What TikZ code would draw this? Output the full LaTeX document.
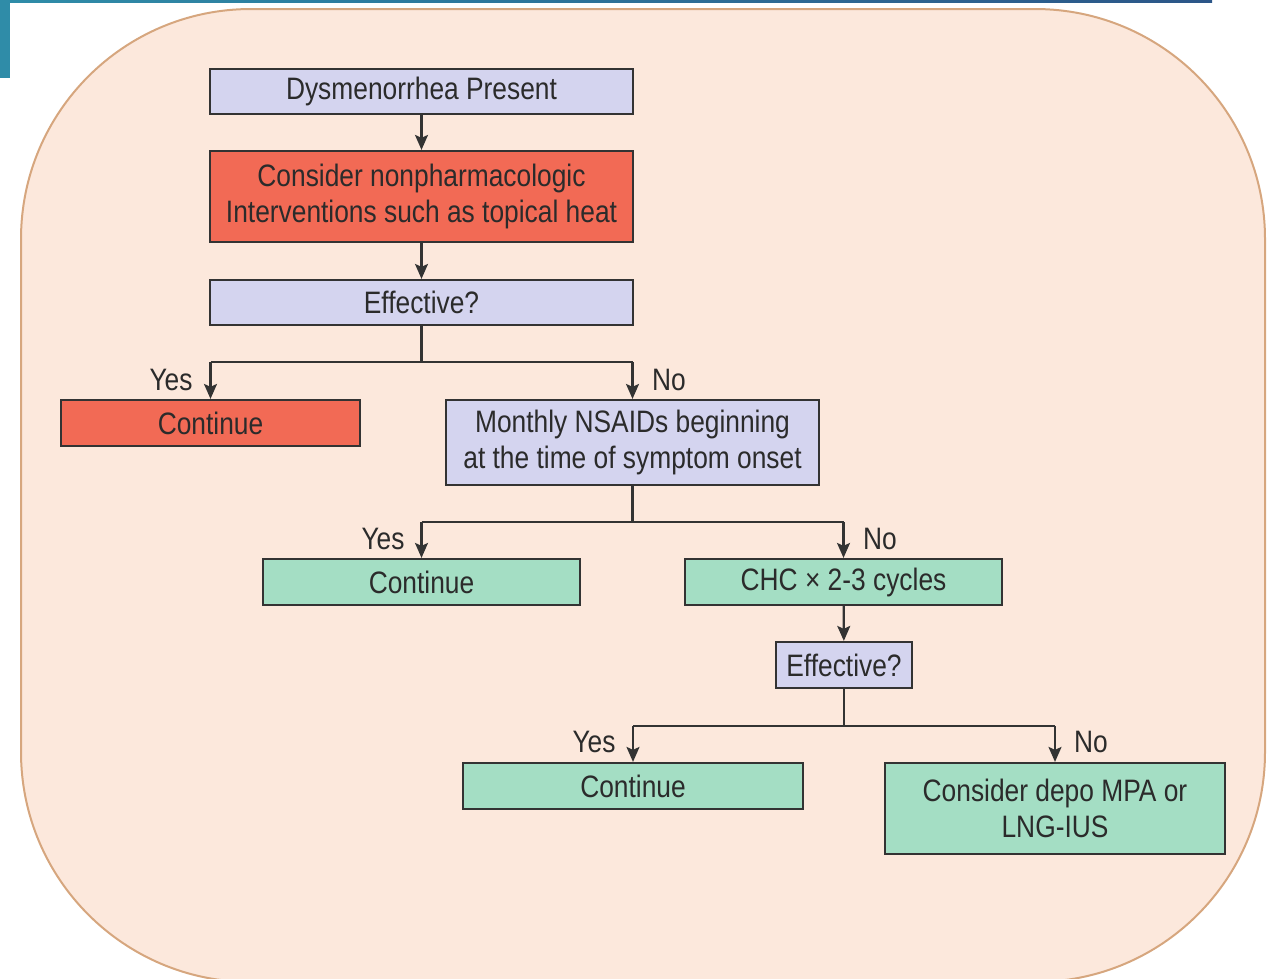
\documentclass[tikz,border=0pt]{standalone}
\usepackage{fontspec}
\setmainfont{Liberation Sans}[FakeStretch=0.85]
\usetikzlibrary{arrows.meta}
\definecolor{bgfill}{HTML}{FCE8DC}
\definecolor{bgline}{HTML}{D6A67E}
\definecolor{lav}{HTML}{D4D4EF}
\definecolor{redbox}{HTML}{F26A55}
\definecolor{grn}{HTML}{A4DEC4}
\definecolor{edge}{HTML}{333333}
\definecolor{txt}{HTML}{2B2B2B}
\definecolor{teal}{HTML}{2F8CA8}
\definecolor{navy}{HTML}{2C5688}
\tikzset{
  box/.style={draw=edge, line width=2.2pt, text=txt, inner sep=0pt, align=center,
    font=\fontsize{31}{36}\selectfont},
  lavbox/.style={box, fill=lav},
  redb/.style={box, fill=redbox},
  grnb/.style={box, fill=grn},
  conn/.style={draw=edge, line width=2.2pt},
  arr/.style={conn, -{Stealth[length=15pt,width=13pt,inset=3pt]}},
  lbl/.style={text=txt, font=\fontsize{31}{36}\selectfont, inner sep=0pt}
}
\begin{document}
\begin{tikzpicture}[x=1pt,y=-1pt]
\useasboundingbox (0,0) rectangle (1281,978);
\clip (0,0) rectangle (1281,978);
% background panel
\draw[fill=bgfill, draw=bgline, line width=2pt, rounded corners=230pt] (21,9) rectangle (1265,982);
% top decoration
\fill[teal] (0,0) rectangle (10,78);
\shade[left color=teal, right color=navy] (10,0) rectangle (1212,2);
% nodes
\node[lavbox, minimum width=423pt, minimum height=45pt] (n1) at (421.5,91.5) {Dysmenorrhea Present};
\node[redb, minimum width=423pt, minimum height=91pt] (n2) at (421.5,196.5) {Consider nonpharmacologic\\Interventions such as topical heat};
\node[lavbox, minimum width=423pt, minimum height=45pt] (n3) at (421.5,302.5) {Effective?};
\node[redb, minimum width=299pt, minimum height=46pt] (n4) at (210.5,423) {Continue};
\node[lavbox, minimum width=373pt, minimum height=85pt] (n5) at (632.5,442.5) {Monthly NSAIDs beginning\\at the time of symptom onset};
\node[grnb, minimum width=317pt, minimum height=46pt] (n6) at (421.5,582) {Continue};
\node[grnb, minimum width=317pt, minimum height=46pt] (n7) at (843.5,582) {CHC × 2-3 cycles};
\node[lavbox, minimum width=136pt, minimum height=46pt] (n8) at (844,665) {Effective?};
\node[grnb, minimum width=340pt, minimum height=46pt] (n9) at (633,786) {Continue};
\node[grnb, minimum width=340pt, minimum height=91pt] (n10) at (1055,808.5) {Consider depo MPA or\\LNG-IUS};
% junction coordinates
\coordinate (j1) at (421.5,362);
\coordinate (j1l) at (210.5,362);
\coordinate (j1r) at (632.5,362);
\coordinate (j2) at (632.5,522);
\coordinate (j2l) at (421.5,522);
\coordinate (j2r) at (843.5,522);
\coordinate (j3) at (844,726);
\coordinate (j3l) at (633,726);
\coordinate (j3r) at (1055,726);
% connectors
\draw[arr] (n1) -- (n2);
\draw[arr] (n2) -- (n3);
\draw[conn] (n3.south) -- (j1);
\draw[conn] (j1l) -- (j1r);
\draw[arr] (j1l) -- (n4.north);
\draw[arr] (j1r) -- (n5.north);
\draw[conn] (n5.south) -- (j2);
\draw[conn] (j2l) -- (j2r);
\draw[arr] (j2l) -- (n6.north);
\draw[arr] (j2r) -- (n7.north);
\draw[arr] (n7) -- (n8);
\draw[conn] (n8.south) -- (j3);
\draw[conn] (j3l) -- (j3r);
\draw[arr] (j3l) -- (n9.north);
\draw[arr] (j3r) -- (n10.north);
% labels
\node[lbl] (y1) at (171,380) {Yes};
\node[lbl] (no1) at (669,380) {No};
\node[lbl] (y2) at (383,539) {Yes};
\node[lbl] (no2) at (880,539) {No};
\node[lbl] (y3) at (594,742) {Yes};
\node[lbl] (no3) at (1091,742) {No};
\end{tikzpicture}
\end{document}
